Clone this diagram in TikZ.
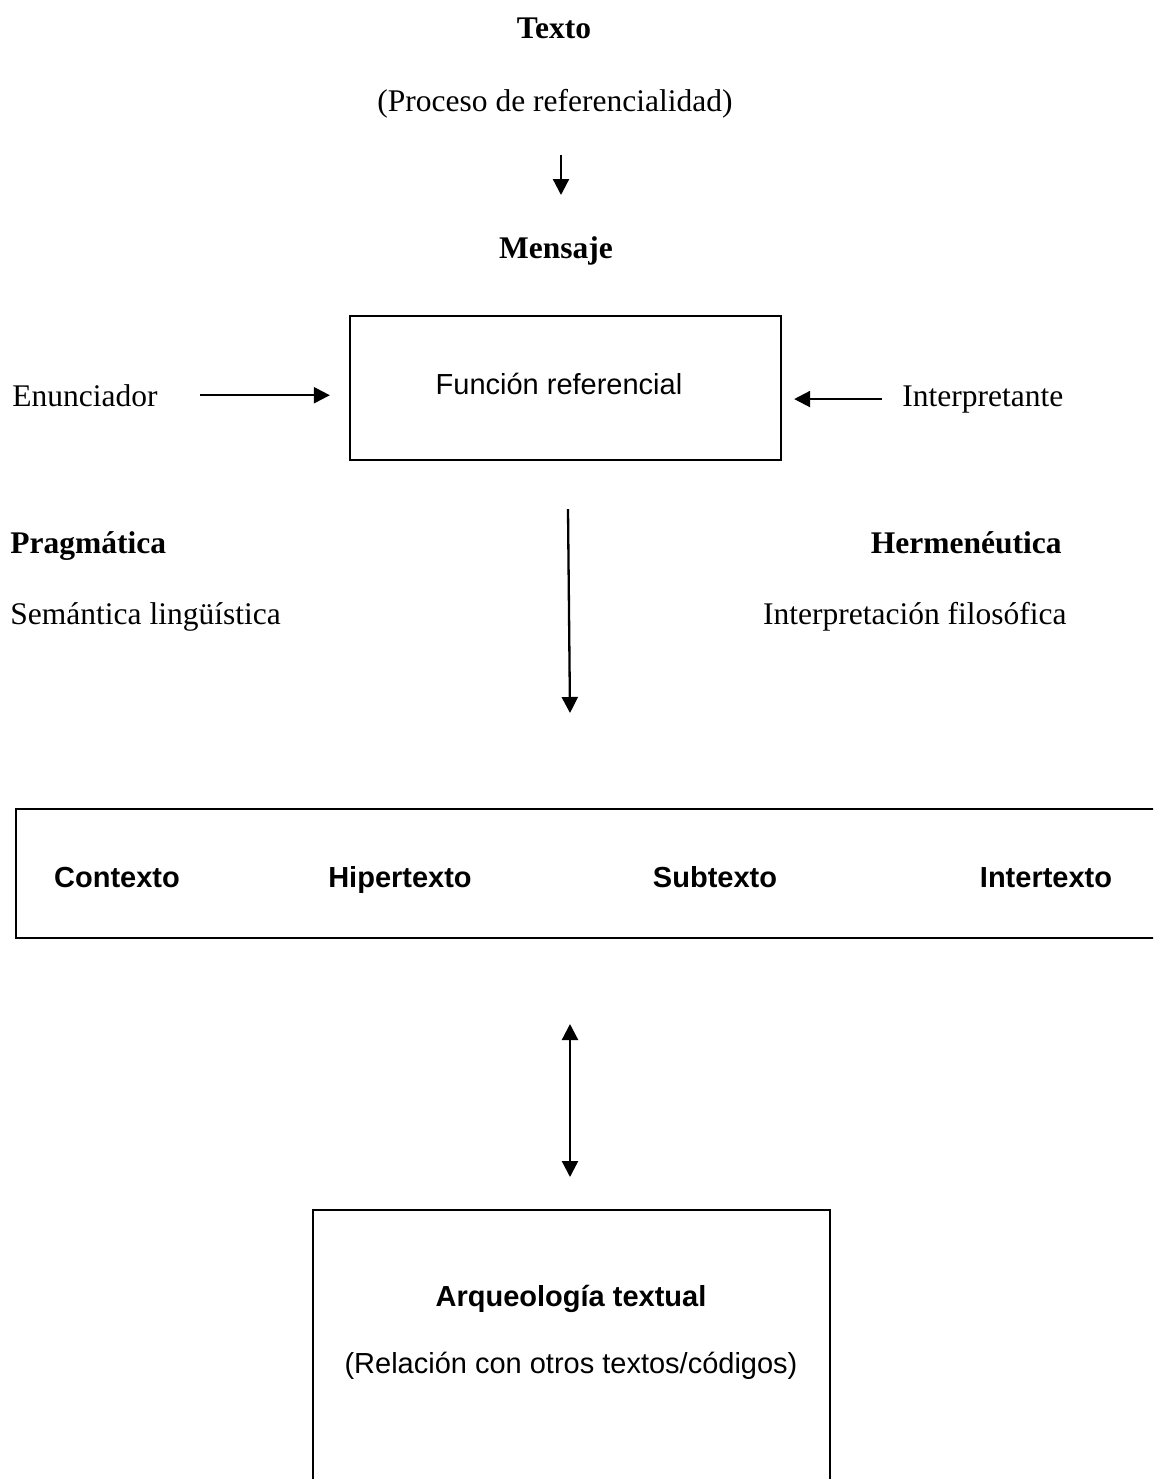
\documentclass[tikz,border=0pt]{standalone}
\usepackage{fontspec}
\setmainfont{Liberation Serif}
\setsansfont{Liberation Sans}
\usetikzlibrary{arrows.meta}

\begin{document}
\begin{tikzpicture}[
  x=0.5pt, y=-0.5pt,
  serif/.style={inner sep=0pt, font=\fontsize{15.75}{19}\selectfont},
  sans/.style={inner sep=0pt, font=\sffamily\fontsize{14.5}{17}\selectfont},
  frame/.style={draw, line width=1.15pt, rectangle, inner sep=0pt},
  tip/.style={},
  arr/.style={line width=1.15pt, -{Triangle[length=8pt,width=8pt]}},
  darr/.style={line width=1.15pt, {Triangle[length=8pt,width=8pt]}-{Triangle[length=8pt,width=8pt]}}
]
\clip (0,0) rectangle (1153,1479);

% title block
\node[serif, anchor=base, font=\bfseries\fontsize{15.75}{19}\selectfont] (texto) at (554,38) {Texto};
\node[serif, anchor=base] (proceso) at (555,111) {(Proceso de referencialidad)};
\node[serif, anchor=base, font=\bfseries\fontsize{15.75}{19}\selectfont] (mensaje) at (556,258) {Mensaje};
\coordinate (p1) at (561,155);
\coordinate (p2) at (561,195);
\draw[arr] (p1) -- (p2);

% referential function box with its two inputs
\node[frame, minimum width=215.5pt, minimum height=72pt] (fun) at (565.5,388) {};
\node[sans, anchor=base] (funtxt) at (559,394) {Función referencial};
\node[serif, anchor=base west] (enun) at (12,406) {Enunciador};
\node[serif, anchor=base west] (interp) at (902,406) {Interpretante};
\draw[arr, shorten <=21pt, shorten >=9.5pt] (enun.east) -- (enun.east -| fun.west);
\draw[arr, shorten <=10pt, shorten >=6pt] (interp.west) -- (interp.west -| fun.east);

% side labels
\node[serif, anchor=base west, font=\bfseries\fontsize{15.75}{19}\selectfont] (prag) at (10,553) {Pragmática};
\node[serif, anchor=base east, font=\bfseries\fontsize{15.75}{19}\selectfont] (herm) at (1062,553) {Hermenéutica};
\node[serif, anchor=base west] (sem) at (10,624) {Semántica lingüística};
\node[serif, anchor=base east] (filo) at (1067,624) {Interpretación filosófica};

% downward arrow to the text types
\coordinate (m1) at (568,509);
\coordinate (m2) at (570,713);
\draw[arr] (m1) -- (m2);

% text types box
\node[frame, minimum width=582pt, minimum height=64.5pt] (tipos) at (598,873.5) {};
\node[sans, anchor=base, font=\sffamily\bfseries\fontsize{14.5}{17}\selectfont] (ctx) at (117,887) {Contexto};
\node[sans, anchor=base, font=\sffamily\bfseries\fontsize{14.5}{17}\selectfont] (hip) at (400,887) {Hipertexto};
\node[sans, anchor=base, font=\sffamily\bfseries\fontsize{14.5}{17}\selectfont] (sub) at (715,887) {Subtexto};
\node[sans, anchor=base, font=\sffamily\bfseries\fontsize{14.5}{17}\selectfont] (inter) at (1046,887) {Intertexto};

% two-way arrow
\coordinate (d1) at (570,1024);
\coordinate (d2) at (570,1177);
\draw[darr] (d1) -- (d2);

% textual archaeology box
\node[frame, minimum width=258.5pt, minimum height=165pt] (arq) at (571.5,1375) {};
\node[sans, anchor=base, font=\sffamily\bfseries\fontsize{14.5}{17}\selectfont] (arqtit) at (571,1306) {Arqueología textual};
\node[sans, anchor=base] (arqsub) at (571,1373) {(Relación con otros textos/códigos)};
\end{tikzpicture}
\end{document}
